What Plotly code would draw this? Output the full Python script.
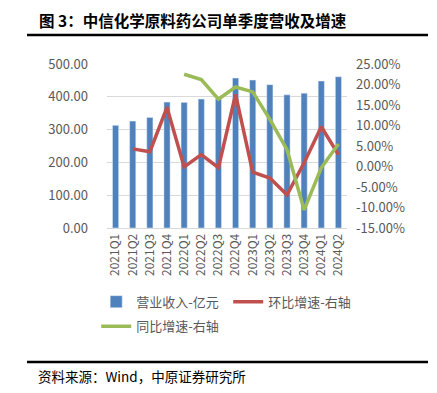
import plotly.graph_objects as go

quarters = ["2021Q1","2021Q2","2021Q3","2021Q4","2022Q1","2022Q2","2022Q3","2022Q4",
            "2023Q1","2023Q2","2023Q3","2023Q4","2024Q1","2024Q2"]
revenue = [313, 326, 337, 384, 383, 393, 394, 457, 451, 437, 406, 411, 448, 461]
qoq = [None, 4.3, 3.6, 14.4, -0.1, 2.9, -0.3, 17.6, -1.4, -2.8, -6.9, 0.9, 9.7, 2.9]
yoy = [None, None, None, None, 22.5, 21.2, 16.4, 19.4, 18.2, 11.5, 4.1, -10.6, -0.3, 5.5]

left_ticks = [0, 100, 200, 300, 400, 500]
right_ticks = [-15, -10, -5, 0, 5, 10, 15, 20, 25]

font_cn = "Noto Sans CJK SC"
gray = "#595959"

fig = go.Figure()
fig.add_trace(go.Bar(x=quarters, y=revenue, name="营业收入-亿元", marker_color="#4F81BD",
                     width=0.36, legend="legend"))
fig.add_trace(go.Scatter(x=quarters, y=qoq, name="环比增速-右轴", mode="lines",
                         line=dict(color="#C0504D", width=3.5), yaxis="y2", legend="legend"))
fig.add_trace(go.Scatter(x=quarters, y=yoy, name="同比增速-右轴", mode="lines",
                         line=dict(color="#9BBB59", width=3.5), yaxis="y2", legend="legend2"))

fig.update_layout(
    width=421, height=377,
    margin=dict(l=99, r=82, t=56, b=157),
    plot_bgcolor="white", paper_bgcolor="white",
    font=dict(family=font_cn, color=gray, size=12),
    bargap=0.6,
    xaxis=dict(type="category", tickangle=-90, showgrid=False, showline=True,
               linecolor="#D9D9D9", linewidth=1, ticks="", tickfont=dict(size=12, color=gray)),
    yaxis=dict(range=[0, 500], tickvals=left_ticks,
               ticktext=[f"{v:.2f}" for v in left_ticks],
               showgrid=True, gridcolor="#D9D9D9", gridwidth=1, zeroline=False,
               tickfont=dict(size=13, color=gray), ticks="", ticklabelstandoff=18),
    yaxis2=dict(range=[-15, 25], tickvals=right_ticks,
                ticktext=[f"{v:.2f}%" for v in right_ticks],
                overlaying="y", side="right", showgrid=False, zeroline=False,
                tickfont=dict(size=13, color=gray), ticks="", ticklabelstandoff=8),
    legend=dict(orientation="h", x=-0.045, y=-0.358, xanchor="left", yanchor="top",
                font=dict(size=13, color=gray), itemwidth=30, entrywidth=87,
                bgcolor="rgba(0,0,0,0)", tracegroupgap=0),
    legend2=dict(orientation="h", x=-0.045, y=-0.508, xanchor="left", yanchor="top",
                 font=dict(size=13, color=gray), itemwidth=30,
                 bgcolor="rgba(0,0,0,0)"),
    showlegend=True,
)

fig.add_annotation(text="<b>图 3：中信化学原料药公司单季度营收及增速</b>", xref="paper", yref="paper",
                   x=(37-107)/240, y=(228-20)/164, xanchor="left", yanchor="middle",
                   showarrow=False, font=dict(size=15.5, color="#000000", family=font_cn))
fig.add_annotation(text="资料来源：Wind，中原证券研究所", xref="paper", yref="paper",
                   x=(36-107)/240, y=(228-376)/164, xanchor="left", yanchor="middle",
                   showarrow=False, font=dict(size=13.5, color="#000000", family=font_cn))
fig.add_shape(type="line", xref="paper", yref="paper",
              x0=(27-107)/240, x1=(428-107)/240, y0=(228-35)/164, y1=(228-35)/164,
              line=dict(color="#000000", width=2.5))
fig.add_shape(type="line", xref="paper", yref="paper",
              x0=(27-107)/240, x1=(428-107)/240, y0=(228-362)/164, y1=(228-362)/164,
              line=dict(color="#000000", width=2.5))

fig.write_html("out.html")
